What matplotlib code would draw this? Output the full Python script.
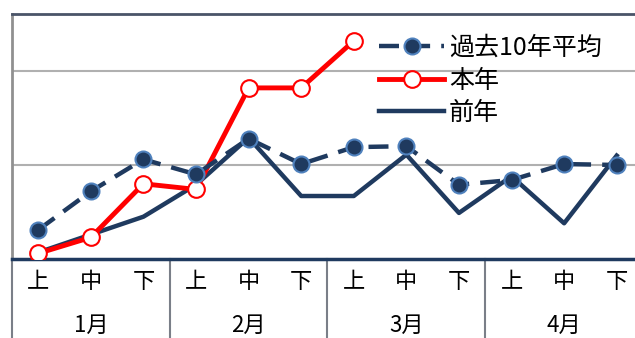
import matplotlib
matplotlib.use("Agg")
import matplotlib.pyplot as plt

plt.rcParams['font.family'] = ['Noto Sans CJK JP', 'DejaVu Sans']

# data
periods = ["上", "中", "下"] * 4
months = ["1月", "2月", "3月", "4月"]
avg10 = [0.31, 0.72, 1.06, 0.90, 1.28, 1.01, 1.19, 1.20, 0.79, 0.84, 1.01, 1.00]
this_year = [0.06, 0.23, 0.80, 0.74, 1.82, 1.82, 2.32]
last_year = [0.07, 0.26, 0.45, 0.79, 1.29, 0.67, 0.67, 1.11, 0.49, 0.88, 0.38, 1.10]

navy = "#1f3a5f"

fig = plt.figure(figsize=(6.35, 3.38), dpi=100)
ax = fig.add_axes([12/635, 1 - 259/338, 631/635, 245/338])

x = list(range(len(periods)))

ax.plot(x, last_year, color=navy, lw=3.2, label="前年", zorder=3)
ax.plot(x[:len(this_year)], this_year, color="#ff0000", lw=3.5, marker="o", ms=12,
        mfc="white", mec="#ff0000", mew=1.5, label="本年", zorder=4)
ax.plot(x, avg10, color=navy, lw=3.2, ls=(0, (4.5, 2.5)), marker="o", ms=11.5,
        mfc=navy, mec="#4f81bd", mew=1.5, label="過去10年平均", zorder=5)

ax.set_xlim(-0.5, 11.5)
ax.set_ylim(0, 2.606)
ax.set_yticks([1, 2])
ax.yaxis.grid(True, color="#b0b0b0", lw=1.5)
ax.set_axisbelow(True)
ax.tick_params(axis="y", length=0, labelleft=False)
ax.tick_params(axis="x", length=0, pad=8)
ax.set_xticks(x)
ax.set_xticklabels(periods, fontsize=16)

ax.spines["top"].set_color("#4a5468")
ax.spines["top"].set_linewidth(2)
ax.spines["left"].set_color("#909090")
ax.spines["left"].set_linewidth(2)
ax.spines["right"].set_visible(False)
ax.spines["bottom"].set_color(navy)
ax.spines["bottom"].set_linewidth(2.5)

# month separators and labels below the axis
trans = ax.get_xaxis_transform()
for i in range(len(months)):
    ax.plot([i*3 - 0.5, i*3 - 0.5], [0, -0.33], transform=trans, color="#7a7f88",
            lw=1.5, clip_on=False)
    ax.text(i*3 + 1, -0.27, months[i], transform=trans, ha="center", va="center",
            fontsize=16)

handles, labels = ax.get_legend_handles_labels()
leg = ax.legend(handles[::-1], labels[::-1], loc="upper left", bbox_to_anchor=(0.562, 0.965),
                frameon=False, fontsize=18, handlelength=2.6, labelspacing=0.26,
                handletextpad=0.2, borderpad=0)

fig.savefig("out.png", dpi=100)
